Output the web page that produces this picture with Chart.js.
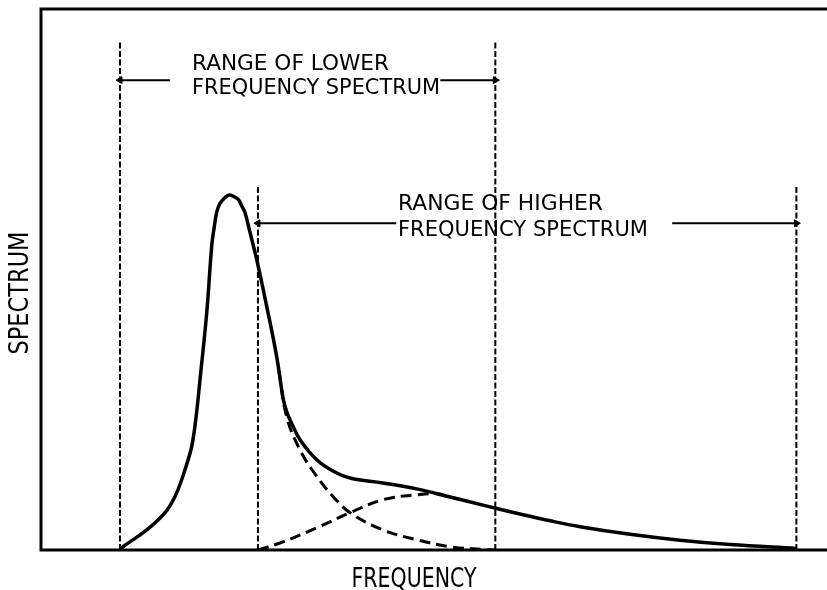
<!DOCTYPE html>
<html lang="en">
<head>
  <meta charset="UTF-8">
  <title>Spectrum ranges</title>
  <script src="https://cdn.jsdelivr.net/npm/chart.js"></script>
  <style>
    html, body {
      margin: 0;
      background: #fff;
      overflow: hidden;
    }
    #box {
      width: 827px;
      height: 590px;
      overflow: hidden;
    }
    canvas {
      display: block;
    }
  </style>
</head>
<body>

<!-- the canvas is a little wider than the box: the plot runs off the right edge, open like the drawing -->
<div id="box">
  <canvas id="spectrumChart" width="840" height="590"></canvas>
</div>

<script>
// measured spectrum (solid curve), frequency / level in arbitrary units
const spectrumFreq  = [10.05, 10.43, 13.45, 15.78, 17.05, 17.90, 18.51, 19.17, 19.69, 20.23, 21.08, 21.72, 22.01,
                       22.35, 22.71, 23.19, 23.54, 23.96, 24.43, 25.10, 25.57, 25.95, 26.59, 27.44, 28.72, 29.99,
                       30.83, 31.30, 31.90, 32.95, 35.08, 37.15, 39.31, 43.51, 47.80, 52.04, 56.23, 60.52, 64.76,
                       68.58, 74.94, 81.30, 87.66, 96.06];
const spectrumLevel = [0, 0.6, 3.7, 6.9, 9.9, 13.0, 15.7, 19.1, 24.1, 31.5, 43.8, 56.2, 59.4,
                       62.4, 63.9, 64.8, 65.3, 65.6, 65.4, 64.8, 63.5, 62.4, 58.7, 53.7, 45.0, 35.7,
                       27.8, 25.4, 23.4, 20.4, 16.7, 14.6, 13.3, 12.4, 11.3, 9.8, 8.3, 6.8, 5.4,
                       4.3, 2.9, 1.8, 1.0, 0.3];

// lower frequency component (dashed)
const lowerCompFreq  = [30.28, 31.26, 32.95, 35.08, 37.15, 39.31, 43.51, 47.80, 52.04, 56.23, 57.76];
const lowerCompLevel = [33.0, 24.6, 18.5, 13.6, 9.9, 6.9, 3.7, 1.9, 0.6, 0.1, 0];

// higher frequency component (dashed)
const higherCompFreq  = [27.61, 30.79, 35.08, 39.31, 43.51, 47.80, 50.34, 52.04, 53.30];
const higherCompLevel = [0, 1.5, 4.1, 6.9, 9.3, 10.2, 10.4, 9.8, 9.35];

// range boundaries and the arrows between them
const lowerRange  = [10.05, 57.8];
const higherRange = [27.6, 96.1];
const lowerRangeTop  = 94.1;
const higherRangeTop = 67.4;
const lowerArrowLevel  = 86.85;
const higherArrowLevel = 60.4;
const lowerArrowInner  = [16.4, 50.8];   // where the arrow shafts stop at the text
const higherArrowInner = [45.2, 80.3];

const toPoints = (xs, ys) => xs.map((x, i) => ({ x, y: ys[i] }));

function boundary(x, top) {
  return {
    data: [{ x, y: 0 }, { x, y: top }],
    borderColor: '#000',
    borderWidth: 2,
    borderDash: [6, 2.5],
    pointRadius: 0,
    tension: 0
  };
}

function arrow(from, to, level, rotation) {
  return {
    data: [{ x: from, y: level }, { x: to, y: level }],
    borderColor: '#000',
    borderWidth: 2,
    tension: 0,
    pointRadius: [0, 4],
    pointStyle: 'triangle',
    rotation,
    pointBackgroundColor: '#000',
    pointBorderColor: '#000',
    pointBorderWidth: 1
  };
}

// condensed plotter-style lettering: stretch each string to its width
function drawFitted(ctx, text, x, y, size, width, align, angle) {
  ctx.font = size + 'px "DejaVu Sans"';
  const w = ctx.measureText(text).width;
  ctx.save();
  ctx.translate(x, y);
  if (angle) ctx.rotate(angle);
  ctx.scale(width / w, 1);
  ctx.textAlign = align;
  ctx.textBaseline = 'alphabetic';
  ctx.fillText(text, 0, 0);
  ctx.restore();
}

// open frame: left, top and bottom rules
const framePlugin = {
  id: 'frame',
  beforeDatasetsDraw(chart) {
    const { ctx, chartArea: a } = chart;
    ctx.save();
    ctx.strokeStyle = '#000';
    ctx.lineWidth = 3;
    ctx.beginPath();
    ctx.moveTo(a.right, a.top);
    ctx.lineTo(a.left, a.top);
    ctx.lineTo(a.left, a.bottom);
    ctx.lineTo(a.right, a.bottom);
    ctx.stroke();
    ctx.beginPath();
    ctx.restore();
  }
};

const labelPlugin = {
  id: 'labels',
  afterDraw(chart) {
    const ctx = chart.ctx;
    ctx.save();
    ctx.fillStyle = '#000';
    drawFitted(ctx, 'RANGE OF LOWER', 192, 69.5, 22, 197, 'left');
    drawFitted(ctx, 'FREQUENCY SPECTRUM', 192, 93.5, 22, 248, 'left');
    drawFitted(ctx, 'RANGE OF HIGHER', 398, 210, 22, 205, 'left');
    drawFitted(ctx, 'FREQUENCY SPECTRUM', 398, 235.5, 22, 250, 'left');
    drawFitted(ctx, 'FREQUENCY', 414, 587, 26, 125, 'center');
    drawFitted(ctx, 'SPECTRUM', 27.5, 293, 26, 123, 'center', -Math.PI / 2);
    ctx.restore();
  }
};

const curveStyle = { borderColor: '#000', pointRadius: 0, tension: 0.4 };

new Chart(document.getElementById('spectrumChart'), {
  type: 'line',
  data: {
    datasets: [
      { ...curveStyle, data: toPoints(spectrumFreq, spectrumLevel), borderWidth: 3.5 },
      { ...curveStyle, data: toPoints(lowerCompFreq, lowerCompLevel), borderWidth: 3, borderDash: [11, 6] },
      { ...curveStyle, data: toPoints(higherCompFreq, higherCompLevel), borderWidth: 3, borderDash: [11, 6] },
      boundary(lowerRange[0], lowerRangeTop),
      boundary(lowerRange[1], lowerRangeTop),
      boundary(higherRange[0], higherRangeTop),
      boundary(higherRange[1], higherRangeTop),
      arrow(lowerArrowInner[0], lowerRange[0], lowerArrowLevel, -90),
      arrow(lowerArrowInner[1], lowerRange[1], lowerArrowLevel, 90),
      arrow(higherArrowInner[0], higherRange[0], higherArrowLevel, -90),
      arrow(higherArrowInner[1], higherRange[1], higherArrowLevel, 90)
    ]
  },
  options: {
    responsive: false,
    animation: false,
    events: [],
    layout: { autoPadding: false, padding: { left: 41, top: 9, right: 0, bottom: 40 } },
    plugins: {
      legend: { display: false },
      tooltip: { enabled: false }
    },
    scales: {
      // 0..100 spans the visible 786px; the extra 13px of canvas adds 1.65
      x: { type: 'linear', min: 0, max: 101.65, display: false },
      y: { type: 'linear', min: 0, max: 100, display: false }
    }
  },
  plugins: [framePlugin, labelPlugin]
});
</script>

</body>
</html>
